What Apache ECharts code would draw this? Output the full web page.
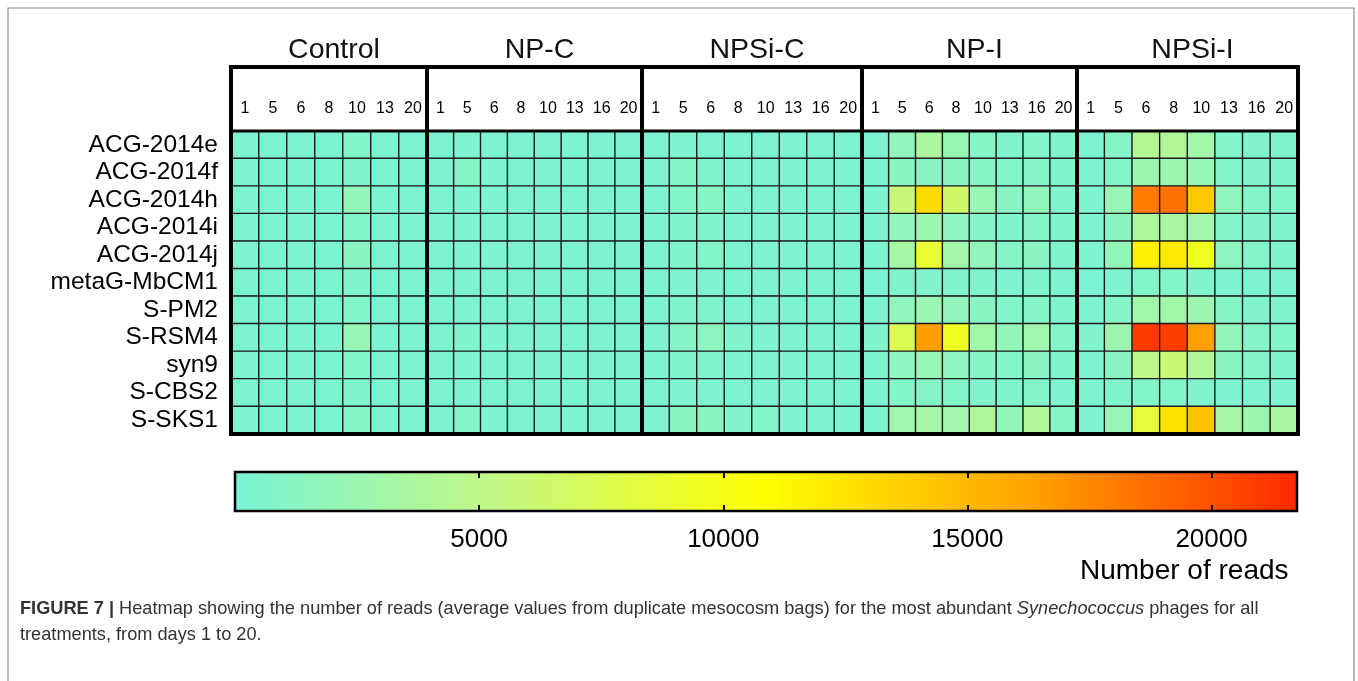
<!DOCTYPE html>
<html>
<head>
<meta charset="utf-8">
<script src="https://cdn.jsdelivr.net/npm/echarts@6/dist/echarts.min.js"></script>
<style>
html,body{margin:0;padding:0;background:#fff;}
#main{width:1358px;height:681px;}
</style>
</head>
<body>
<div id="main"></div>
<script>
// ---------------- DATA ----------------
const phages = ['ACG-2014e','ACG-2014f','ACG-2014h','ACG-2014i','ACG-2014j','metaG-MbCM1','S-PM2','S-RSM4','syn9','S-CBS2','S-SKS1'];
const treatments = ['Control','NP-C','NPSi-C','NP-I','NPSi-I'];
const daysControl = ['1','5','6','8','10','13','20'];
const daysOther = ['1','5','6','8','10','13','16','20'];

// rows = phages, columns = days
const control = [
  [300,300,300,300,700,300,300],
  [300,300,300,300,600,300,300],
  [300,300,300,300,2000,300,300],
  [300,300,300,300,800,300,300],
  [300,300,300,300,1200,300,300],
  [300,300,300,300,600,300,300],
  [300,300,300,300,700,300,300],
  [300,300,300,300,2200,300,300],
  [300,300,300,300,800,300,300],
  [300,300,300,300,600,300,300],
  [300,300,300,300,1000,300,300]
];
const npC = [
  [300,400,300,300,300,300,300,300],
  [300,900,400,300,300,300,300,300],
  [300,400,400,300,300,300,300,300],
  [300,300,300,300,300,300,300,300],
  [300,400,400,300,300,300,300,300],
  [300,300,300,300,300,300,300,300],
  [300,300,300,300,300,300,300,300],
  [300,500,400,300,300,300,300,300],
  [300,400,300,300,300,300,300,300],
  [300,300,300,300,300,300,300,300],
  [300,800,400,300,300,300,300,300]
];
const npsiC = [
  [300,400,300,300,300,300,300,300],
  [300,1000,600,300,300,300,300,300],
  [300,700,1100,400,300,300,300,300],
  [300,500,500,300,300,300,300,300],
  [300,600,700,300,300,300,300,300],
  [300,400,400,300,300,300,300,300],
  [300,500,500,300,300,300,300,300],
  [300,900,1400,500,400,300,300,300],
  [300,500,600,300,300,300,300,300],
  [300,400,400,300,300,300,300,300],
  [300,1200,1300,500,800,300,300,300]
];
const npI = [
  [300,1800,3600,2300,1000,600,700,500],
  [300,1300,1200,1200,900,700,900,500],
  [400,5800,13000,6500,2300,1200,1800,600],
  [300,1800,2500,1500,800,600,900,500],
  [400,3300,8800,3000,1800,900,1200,500],
  [200,600,500,500,500,400,500,300],
  [300,1700,2400,1800,1200,800,1000,500],
  [500,7500,16500,9500,3000,2000,2800,800],
  [300,1500,2200,1500,1000,700,1200,500],
  [300,700,900,700,600,500,800,400],
  [400,2800,3200,2800,3800,2000,4000,1000]
];
const npsiI = [
  [300,900,4500,4000,3000,800,500,500],
  [300,800,2500,2500,2200,800,600,500],
  [400,2200,18000,18500,14100,1800,800,700],
  [300,1200,3800,3500,2800,800,600,500],
  [400,2000,11800,12200,9500,1500,800,600],
  [200,400,700,700,600,400,300,300],
  [300,1000,3000,3000,2500,900,600,500],
  [500,2600,21000,20800,16400,2000,900,800],
  [300,1300,5000,6000,4200,1200,700,600],
  [300,600,800,700,600,400,400,400],
  [400,2200,8500,12500,14500,3200,2500,3500]
];
const colorTicks = [5000, 10000, 15000, 20000];
const colorMax = 21750;
const colorStops = ['#78f4d6', '#c4f884', '#ffff00', '#ffa200', '#ff2800'];

// ---------------- LAYOUT ----------------
const bounds = [231, 427, 642, 862, 1077, 1298];
const frameTop = 67, cellTop = 131, cellBottom = 434;
const cbLeft = 235, cbRight = 1297, cbTop = 472, cbBottom = 511;
const W = 1358;
const FONT = 'Liberation Sans, Arial, sans-serif';

const matrices = [control, npC, npsiC, npI, npsiI];
const dayLists = [daysControl, daysOther, daysOther, daysOther, daysOther];

const grids = [], xAxes = [], yAxes = [], series = [], titles = [], graphics = [];
treatments.forEach((t, i) => {
  grids.push({left: bounds[i], width: bounds[i+1]-bounds[i], top: cellTop, height: cellBottom-cellTop, containLabel: false});
  xAxes.push({
    type: 'category', gridIndex: i, data: dayLists[i], position: 'top',
    axisLine: {show: false}, axisTick: {show: false}, splitLine: {show: false},
    axisLabel: {margin: 14, fontSize: 16, color: '#000', fontFamily: FONT, interval: 0}
  });
  yAxes.push({
    type: 'category', gridIndex: i, data: phages, inverse: true,
    axisLine: {show: false}, axisTick: {show: false}, splitLine: {show: false},
    axisLabel: {show: i === 0, interval: 0, hideOverlap: false, margin: 13, fontSize: 24.5, color: '#000', fontFamily: FONT}
  });
  const data = [];
  matrices[i].forEach((row, r) => row.forEach((v, c) => data.push([c, r, v])));
  series.push({
    type: 'heatmap', name: t, xAxisIndex: i, yAxisIndex: i, data: data,
    itemStyle: {borderColor: '#1c1c1c', borderWidth: 1.4},
    emphasis: {disabled: true}, z: 2
  });
  titles.push({
    text: t, left: (bounds[i]+bounds[i+1])/2, top: 31, textAlign: 'center',
    textStyle: {fontSize: 28.5, fontWeight: 'normal', color: '#111', fontFamily: FONT}
  });
  graphics.push({
    type: 'rect', z: 100,
    shape: {x: bounds[i], y: frameTop, width: bounds[i+1]-bounds[i], height: cellBottom-frameTop},
    style: {fill: null, stroke: '#000', lineWidth: 4}
  });
});
graphics.push({
  type: 'line', z: 100,
  shape: {x1: bounds[0], y1: cellTop, x2: bounds[bounds.length-1], y2: cellTop},
  style: {stroke: '#000', lineWidth: 3}
});

// colour bar grid
const cbIdx = treatments.length;
grids.push({left: cbLeft, right: W - cbRight, top: cbTop, height: cbBottom - cbTop});
xAxes.push({
  type: 'value', gridIndex: cbIdx, min: 0, max: colorMax, interval: 5000, position: 'bottom', z: 10,
  axisLine: {show: false}, splitLine: {show: false},
  axisTick: {show: true, inside: true, length: 6, lineStyle: {color: '#000', width: 2}},
  axisLabel: {margin: 16, fontSize: 26, color: '#000', fontFamily: FONT,
    formatter: v => colorTicks.indexOf(v) >= 0 ? String(v) : ''}
});
xAxes.push({
  type: 'value', gridIndex: cbIdx, min: 0, max: colorMax, interval: 5000, position: 'top', z: 10,
  axisLine: {show: false}, splitLine: {show: false}, axisLabel: {show: false},
  axisTick: {show: true, inside: true, length: 6, lineStyle: {color: '#000', width: 2}}
});
yAxes.push({type: 'value', gridIndex: cbIdx, min: 0, max: 1, show: false});
const cbX = xAxes.length - 2;
series.push({
  type: 'custom', xAxisIndex: cbX, yAxisIndex: cbIdx, z: 1, silent: true,
  data: [[0, colorMax]],
  renderItem: function (params, api) {
    const p0 = api.coord([api.value(0), 0]);
    const p1 = api.coord([api.value(1), 1]);
    return {
      type: 'rect',
      shape: {x: p0[0], y: p1[1], width: p1[0]-p0[0], height: p0[1]-p1[1]},
      style: {
        fill: new echarts.graphic.LinearGradient(0, 0, 1, 0,
          colorStops.map((c, k) => ({offset: k/(colorStops.length-1), color: c}))),
        stroke: '#000', lineWidth: 2.5
      }
    };
  }
});

// figure frame and texts
graphics.push({
  type: 'rect', z: 0,
  shape: {x: 8, y: 8, width: 1346, height: 700},
  style: {fill: null, stroke: '#8a8a8a', lineWidth: 1.2}
});
graphics.push({
  type: 'text', z: 100, left: 1080, top: 557,
  style: {text: 'Number of reads', fontSize: 28, fill: '#000', fontFamily: FONT}
});
graphics.push({
  type: 'text', z: 100, left: 20, top: 596,
  style: {
    text: '{b|FIGURE 7 |} Heatmap showing the number of reads (average values from duplicate mesocosm bags) for the most abundant {i|Synechococcus} phages for all\ntreatments, from days 1 to 20.',
    fontSize: 18.2, lineHeight: 26, fill: '#333', fontFamily: FONT,
    rich: {
      b: {fontWeight: 'bold', fontSize: 18.2, fill: '#333', fontFamily: FONT},
      i: {fontStyle: 'italic', fontSize: 18.2, fill: '#333', fontFamily: FONT}
    }
  }
});

const chart = echarts.init(document.getElementById('main'), null, {renderer: 'canvas'});
chart.setOption({
  animation: false,
  backgroundColor: '#fff',
  title: titles,
  grid: grids,
  xAxis: xAxes,
  yAxis: yAxes,
  visualMap: {
    type: 'continuous', show: false, min: 0, max: colorMax,
    seriesIndex: [0,1,2,3,4], inRange: {color: colorStops}
  },
  graphic: graphics,
  series: series
});
</script>
</body>
</html>
